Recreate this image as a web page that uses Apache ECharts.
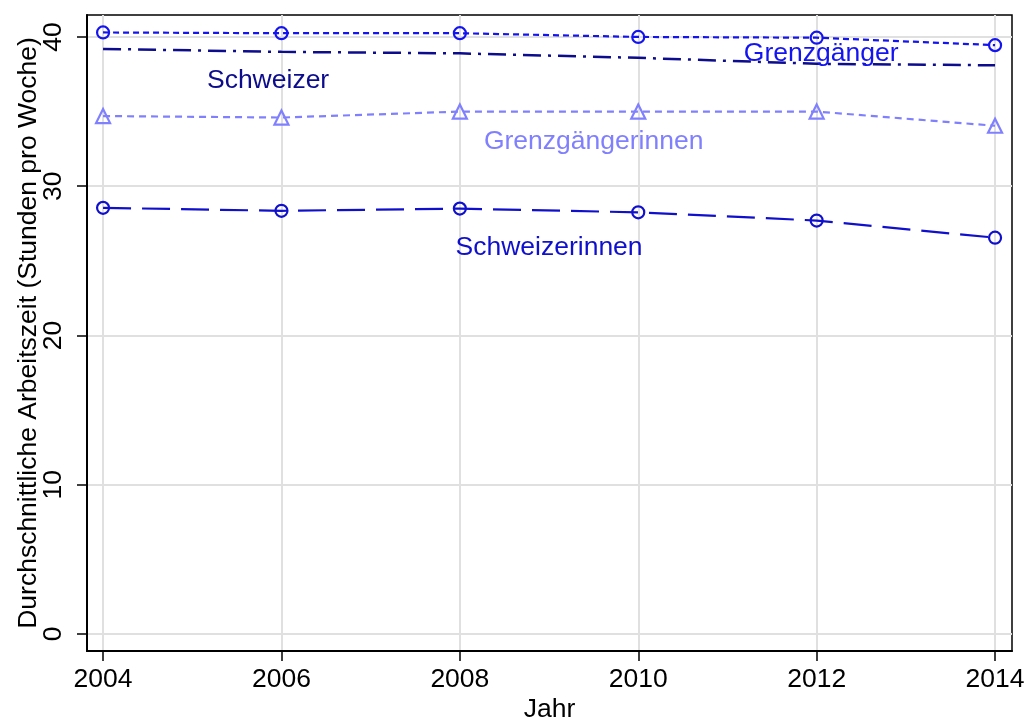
<!DOCTYPE html>
<html><head><meta charset="utf-8">
<script src="https://cdn.jsdelivr.net/npm/echarts@6/dist/echarts.min.js"></script>
<style>html,body{margin:0;padding:0;background:#fff}#c{width:1027px;height:719px}</style>
</head><body><div id="c"></div>
<script>
const years = [2004, 2006, 2008, 2010, 2012, 2014];
const grenzgaenger = [40.3, 40.25, 40.25, 40.0, 39.95, 39.45];
const schweizer = [39.2, 39.0, 38.9, 38.6, 38.2, 38.1];
const grenzgaengerinnen = [34.7, 34.6, 35.0, 35.0, 35.0, 34.05];
const schweizerinnen = [28.55, 28.35, 28.5, 28.25, 27.7, 26.55];
const xTicks = [2004, 2006, 2008, 2010, 2012, 2014];
const yTicks = [0, 10, 20, 30, 40];
const seriesNames = ['Grenzgänger', 'Schweizer', 'Grenzgängerinnen', 'Schweizerinnen'];
// label anchors in data units [year, hours]
const labelAnchors = [[2012.05, 38.9], [2005.85, 37.1], [2009.5, 33.0], [2009.0, 25.9]];

const colors = ['#1414f0', '#0c0c8c', '#8080ff', '#1010cc'];
const dashes = [[6,4], [18,7,3,7], [7,5], [28,11]];
const symbols = ['circle', 'none', 'triangle', 'circle'];
const values = [grenzgaenger, schweizer, grenzgaengerinnen, schweizerinnen];
const FONT = 'Liberation Sans, Arial, sans-serif';
const FS = 26.5;

const series = [];
values.forEach((v, i) => {
  series.push({
    type: 'line', name: seriesNames[i],
    data: years.map((y, j) => [y, v[j]]),
    symbol: symbols[i], symbolSize: i === 2 ? 14 : 12, showSymbol: symbols[i] !== 'none',
    lineStyle: {color: colors[i], width: i === 1 ? 2.5 : 2.2, type: dashes[i]},
    itemStyle: {color: 'rgba(0,0,0,0)', borderColor: colors[i], borderWidth: 2.2},
    animation: false, z: 3
  });
  series.push({
    type: 'scatter', name: seriesNames[i] + '_label',
    data: [labelAnchors[i]], symbolSize: 1, silent: true, z: 4,
    itemStyle: {opacity: 1, color: 'rgba(0,0,0,0)'},
    label: {show: true, position: 'inside', formatter: seriesNames[i], color: colors[i], fontSize: FS, fontFamily: FONT, opacity: 1},
    animation: false
  });
});

const chart = echarts.init(document.getElementById('c'));
chart.setOption({
  animation: false,
  grid: {left: 87, right: 15, top: 15, bottom: 68, outerBoundsMode: 'none', containLabel: false, show: true, borderColor: '#000', borderWidth: 1.5, backgroundColor: '#fff'},
  xAxis: {
    type: 'value', min: 2003.82, max: 2014.19,
    name: 'Jahr', nameLocation: 'middle', nameGap: 45, nameMoveOverlap: false,
    nameTextStyle: {fontSize: FS, color: '#000', fontFamily: FONT},
    axisLine: {show: true, onZero: false, lineStyle: {color: '#000', width: 2}},
    axisTick: {show: true, customValues: xTicks, length: 10, lineStyle: {color: '#000', width: 1.5}},
    axisLabel: {customValues: xTicks, fontSize: FS, color: '#000', fontFamily: FONT, margin: 15, formatter: v => String(v)},
    splitLine: {show: true, lineStyle: {color: '#e0e0e0', width: 2}}
  },
  yAxis: {
    type: 'value', min: -1.14, max: 41.47,
    name: 'Durchschnittliche Arbeitszeit (Stunden pro Woche)', nameLocation: 'middle', nameGap: 45, nameMoveOverlap: false,
    nameTextStyle: {fontSize: FS, color: '#000', fontFamily: FONT},
    axisLine: {show: true, onZero: false, lineStyle: {color: '#000', width: 2}},
    axisTick: {show: true, customValues: yTicks, length: 10, lineStyle: {color: '#000', width: 1.5}},
    axisLabel: {customValues: yTicks, fontSize: FS, color: '#000', fontFamily: FONT, rotate: 90, margin: 20},
    splitLine: {show: true, lineStyle: {color: '#e0e0e0', width: 2}}
  },
  series: series
});
</script></body></html>
